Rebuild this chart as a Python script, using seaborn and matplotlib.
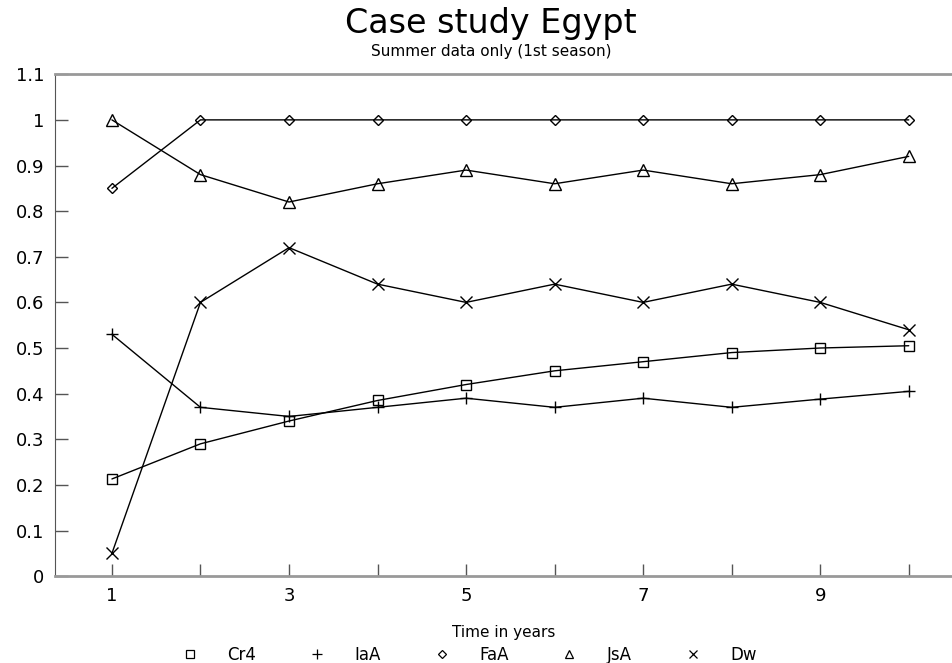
import numpy as np
import pandas as pd
import matplotlib
matplotlib.use("Agg")
import matplotlib.pyplot as plt
import seaborn as sns
from matplotlib.lines import Line2D

# values
years = [1, 2, 3, 4, 5, 6, 7, 8, 9, 10]
cr4 = [0.213, 0.29, 0.34, 0.385, 0.42, 0.45, 0.47, 0.49, 0.50, 0.505]
iaa = [0.53, 0.37, 0.35, 0.37, 0.39, 0.37, 0.39, 0.37, 0.388, 0.405]
faa = [0.85, 1.0, 1.0, 1.0, 1.0, 1.0, 1.0, 1.0, 1.0, 1.0]
jsa = [1.0, 0.88, 0.82, 0.86, 0.89, 0.86, 0.89, 0.86, 0.88, 0.92]
dw = [0.05, 0.60, 0.72, 0.64, 0.60, 0.64, 0.60, 0.64, 0.60, 0.54]

series_names = ["Cr4", "IaA", "FaA", "JsA", "Dw"]
series_values = [cr4, iaa, faa, jsa, dw]
series_markers = ["s", "+", "D", "^", "x"]
marker_sizes = [7, 9, 5, 8, 8]
legend_sizes = [6, 7, 4.5, 6, 6]

df = pd.DataFrame({"year": years})
for name, vals in zip(series_names, series_values):
    df[name] = vals

sns.set_style("white")
plt.rcParams["font.family"] = ["DejaVu Sans"]
plt.rcParams["text.color"] = "black"
plt.rcParams["axes.labelcolor"] = "black"
plt.rcParams["xtick.color"] = "black"
plt.rcParams["ytick.color"] = "black"

fig = plt.figure(figsize=(9.53, 6.63), dpi=100)
ax = fig.add_axes([0.058, 0.131, 0.942, 0.757])

for name, m, ms in zip(series_names, series_markers, marker_sizes):
    sns.lineplot(data=df, x="year", y=name, ax=ax, color="black", linewidth=1.0,
                 marker=m, markersize=ms, markerfacecolor="none",
                 markeredgecolor="black", markeredgewidth=1.0)

ax.set_xlim(0.36, 10.5)
ax.set_ylim(0, 1.1)
ax.set_xticks(years)
ax.set_xticklabels([str(y) if y % 2 == 1 else "" for y in years])
ax.set_yticks(np.arange(0, 1.11, 0.1))
ax.set_yticklabels(["0", "0.1", "0.2", "0.3", "0.4", "0.5", "0.6", "0.7", "0.8", "0.9", "1", "1.1"])
ax.tick_params(axis="both", direction="in", length=9, width=1, color="#555555",
               labelsize=13, pad=8, labelcolor="black")
ax.tick_params(axis="y", left=True)
ax.tick_params(axis="x", bottom=True)

ax.spines["right"].set_visible(False)
ax.spines["top"].set_color("#999999")
ax.spines["bottom"].set_color("#999999")
ax.spines["left"].set_color("#555555")
for s in ["top", "bottom"]:
    ax.spines[s].set_linewidth(2)

ax.set_xlabel("Time in years", fontsize=11, labelpad=14)
ax.set_ylabel("")

fig.text(0.515, 0.965, "Case study Egypt", ha="center", va="center", fontsize=24)
fig.text(0.515, 0.922, "Summer data only (1st season)", ha="center", va="center", fontsize=11)

handles = [Line2D([], [], linestyle="none", marker=m, markersize=s, markerfacecolor="none",
                  markeredgecolor="black", markeredgewidth=0.9)
           for m, s in zip(series_markers, legend_sizes)]
fig.legend(handles, series_names, loc="center", bbox_to_anchor=(0.49, 0.012), ncol=5,
           frameon=False, fontsize=12, handlelength=1.5, handletextpad=1.5, columnspacing=2.9,
           borderaxespad=0)

fig.savefig("out.png", dpi=100)
